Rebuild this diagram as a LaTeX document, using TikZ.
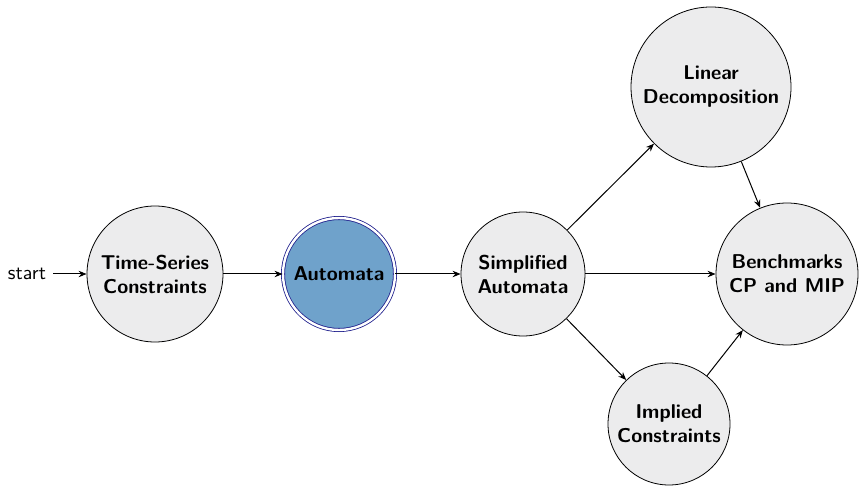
\documentclass[tikz,border=0pt]{standalone}
\usetikzlibrary{arrows.meta}
\renewcommand{\familydefault}{\sfdefault}
\definecolor{statefill}{RGB}{236,236,237}
\definecolor{activefill}{RGB}{111,162,203}
\definecolor{activeline}{RGB}{30,30,140}
\begin{document}
\begin{tikzpicture}[x=0.5pt,y=-0.5pt,
  state/.style={circle,draw=black,fill=statefill,align=center,
    font=\sffamily\bfseries,inner sep=0pt},
  active/.style={state,fill=activefill,draw=activeline,double=white,
    double distance=1.2pt},
  flow/.style={-{Stealth[length=4pt,width=3.2pt]},line width=0.5pt}]
\useasboundingbox (0,0) rectangle (860,491);
\node (start) at (27,274) {start};
\node[state,minimum size=68pt] (ts) at (155,274) {Time-Series\\Constraints};
\node[active,minimum size=56pt] (aut) at (339,274) {Automata};
\node[state,minimum size=62pt] (simp) at (523,274) {Simplified\\Automata};
\node[state,minimum size=80pt] (lin) at (711,87) {Linear\\Decomposition};
\node[state,minimum size=61pt] (imp) at (669,424) {Implied\\Constraints};
\node[state,minimum size=71pt] (bench) at (787,274) {Benchmarks\\CP and MIP};
\draw[flow] (start) -- (ts);
\draw[flow] (ts) -- (aut);
\draw[flow] (aut) -- (simp);
\draw[flow] (simp) -- (lin);
\draw[flow] (simp) -- (bench);
\draw[flow] (simp) -- (imp);
\draw[flow] (lin) -- (bench);
\draw[flow] (imp) -- (bench);
\end{tikzpicture}
\end{document}
